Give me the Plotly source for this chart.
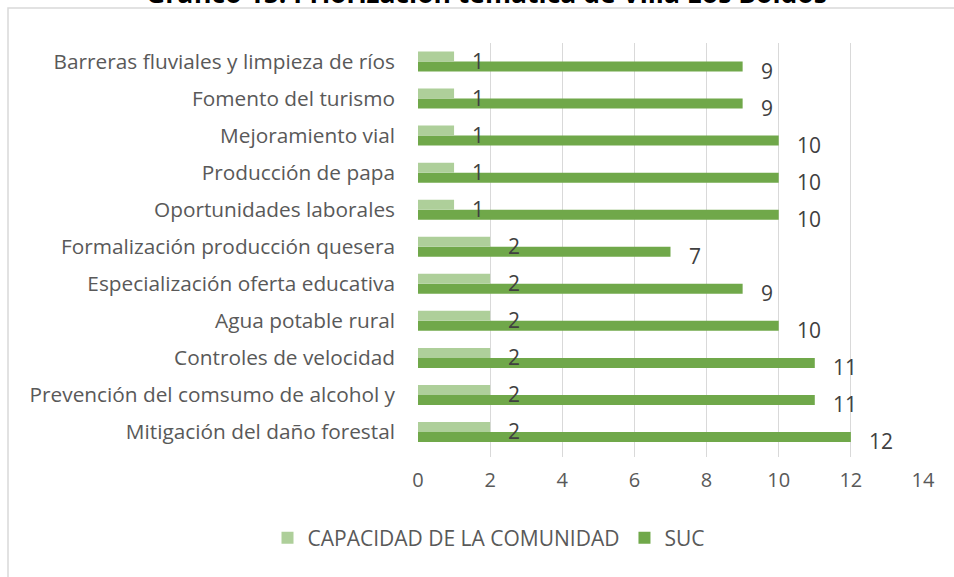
import plotly.graph_objects as go

# Topics, listed bottom-to-top as drawn on the category axis
temas = [
    "Mitigación del daño forestal",
    "Prevención del comsumo de alcohol y",
    "Controles de velocidad",
    "Agua potable rural",
    "Especialización oferta educativa",
    "Formalización producción quesera",
    "Oportunidades laborales",
    "Producción de papa",
    "Mejoramiento vial",
    "Fomento del turismo",
    "Barreras fluviales y limpieza de ríos",
]
capacidad = [2, 2, 2, 2, 2, 2, 1, 1, 1, 1, 1]
suc = [12, 11, 11, 10, 9, 7, 10, 10, 10, 9, 9]
x_ticks = [0, 2, 4, 6, 8, 10, 12, 14]

titulo = "Gráfico 15: Priorización temática de Villa Los Boldos"

FONT = "Open Sans"
C_LIGHT = "#AECF9A"
C_DARK = "#70A84A"
TXT = "#595959"
LBL = "#404040"

W, H = 954, 577
L, R, T, B = 418, 31, 43, 120
pw, ph = W - L - R, H - T - B


def px_x(p):
    """pixel column -> paper x"""
    return (p - L) / pw


def px_y(p):
    """pixel row -> paper y"""
    return 1 - (p - T) / ph


fig = go.Figure()
# SUC first so it sits below the lighter series within each group
fig.add_trace(go.Bar(
    y=temas, x=suc, orientation="h", name="SUC",
    marker=dict(color=C_DARK, line=dict(width=0)), legendrank=2,
))
fig.add_trace(go.Bar(
    y=temas, x=capacidad, orientation="h", name="CAPACIDAD DE LA COMUNIDAD",
    marker=dict(color=C_LIGHT, line=dict(width=0)), legendrank=1,
))

# value labels just beyond the end of each bar
annotations = []
for t, v in zip(temas, capacidad):
    annotations.append(dict(x=v, y=t, xref="x", yref="y", text=str(v),
                            showarrow=False, xanchor="left", yanchor="middle",
                            xshift=16, yshift=1,
                            font=dict(family=FONT, size=21, color=LBL)))
for t, v in zip(temas, suc):
    annotations.append(dict(x=v, y=t, xref="x", yref="y", text=str(v),
                            showarrow=False, xanchor="left", yanchor="middle",
                            xshift=16, yshift=-9,
                            font=dict(family=FONT, size=21, color=LBL)))

# chart title, partly running off the top edge
annotations.append(dict(x=px_x(486), y=px_y(13), xref="paper", yref="paper",
                        text="<b>" + titulo + "</b>", showarrow=False,
                        xanchor="center", yanchor="bottom",
                        font=dict(family=FONT, size=26.5, color="#000000")))

fig.update_layout(
    width=W, height=H,
    margin=dict(l=L, r=R, t=T, b=B, autoexpand=False),
    paper_bgcolor="white", plot_bgcolor="white",
    barmode="group", bargap=0.46, bargroupgap=0,
    font=dict(family=FONT, color=TXT),
    showlegend=True,
    legend=dict(orientation="h", xref="container", yref="container",
                x=489 / W, y=1 - 538 / H, xanchor="center", yanchor="middle",
                font=dict(family=FONT, size=21, color=TXT),
                itemwidth=30, traceorder="normal"),
    annotations=annotations,
    shapes=[dict(type="rect", xref="paper", yref="paper",
                 x0=px_x(8), x1=px_x(W + 20),
                 y0=px_y(H + 20), y1=px_y(8),
                 line=dict(color="#D9D9D9", width=1.5), layer="below")],
)
fig.update_xaxes(range=[0, 14], tickvals=x_ticks, showgrid=True,
                 gridcolor="#D9D9D9", gridwidth=1, zeroline=False,
                 showline=False, ticklabelstandoff=9, automargin=False,
                 tickfont=dict(family=FONT, size=20, color=TXT))
fig.update_yaxes(categoryorder="array", categoryarray=temas,
                 showgrid=False, showline=False, ticks="",
                 ticklabelstandoff=22, automargin=False,
                 tickfont=dict(family=FONT, size=20.8, color=TXT))

fig.write_html("out.html")
